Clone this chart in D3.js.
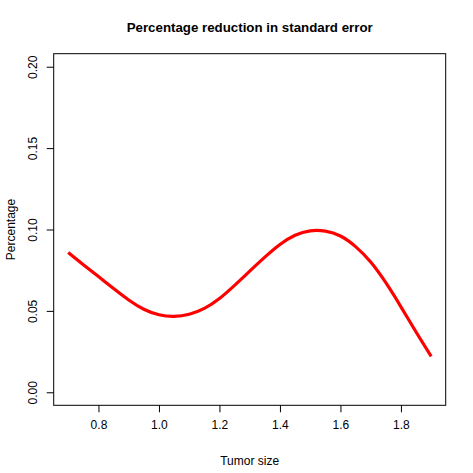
<!DOCTYPE html>
<html>
<head>
<meta charset="utf-8">
<script src="https://cdn.jsdelivr.net/npm/d3@7"></script>
<style>
  html, body { margin: 0; padding: 0; background: #fff; }
  svg { display: block; }
  text { font-family: "Liberation Sans", Arial, Helvetica, sans-serif; fill: #000; }
</style>
</head>
<body>
<svg id="chart" width="473" height="473"></svg>
<script>
// ---- data ----
const tumorSize = [0.70, 0.75, 0.80, 0.85, 0.90, 0.95, 1.00, 1.05, 1.10, 1.15, 1.20, 1.25,
                   1.30, 1.35, 1.40, 1.45, 1.50, 1.55, 1.60, 1.65, 1.70, 1.75, 1.80, 1.85, 1.90];
const percentage = [0.0859, 0.0784, 0.0711, 0.0637, 0.0567, 0.0510, 0.0476, 0.0466, 0.0479, 0.0515, 0.0576, 0.0657,
                    0.0744, 0.0830, 0.0908, 0.0965, 0.0992, 0.0990, 0.0960, 0.0895, 0.0800, 0.0673, 0.0525, 0.0370, 0.0221];
const xTicks = [0.8, 1.0, 1.2, 1.4, 1.6, 1.8];
const yTicks = [0.00, 0.05, 0.10, 0.15, 0.20];
const titleText = "Percentage reduction in standard error";
const xLabel = "Tumor size";
const yLabel = "Percentage";

// ---- layout ----
const svg = d3.select("#chart");
const pLeft = 53.7, pRight = 445.7, pTop = 53.7, pBottom = 405.3;
const xMin = 0.7, xMax = 1.9, yMin = 0, yMax = 0.2;
const xPad = (xMax - xMin) * 0.04, yPad = (yMax - yMin) * 0.04;
const x = d3.scaleLinear().domain([xMin - xPad, xMax + xPad]).range([pLeft, pRight]);
const y = d3.scaleLinear().domain([yMin - yPad, yMax + yPad]).range([pBottom, pTop]);

// box
svg.append("rect")
  .attr("x", pLeft).attr("y", pTop)
  .attr("width", pRight - pLeft).attr("height", pBottom - pTop)
  .attr("fill", "none").attr("stroke", "#000").attr("stroke-width", 1);

// x axis
const xAxis = d3.axisBottom(x).tickValues(xTicks).tickSize(7).tickPadding(8)
  .tickFormat(d3.format(".1f"));
const gx = svg.append("g").attr("transform", `translate(0,${pBottom})`).call(xAxis);
gx.select(".domain").remove();
gx.selectAll("line").attr("stroke", "#000");
gx.selectAll("text").attr("font-size", 12).attr("font-family", "Liberation Sans, Arial, sans-serif");

// y axis
const yAxis = d3.axisLeft(y).tickValues(yTicks).tickSize(7).tickPadding(0)
  .tickFormat(d3.format(".2f"));
const gy = svg.append("g").attr("transform", `translate(${pLeft},0)`).call(yAxis);
gy.select(".domain").remove();
gy.selectAll("line").attr("stroke", "#000");
gy.selectAll(".tick text")
  .attr("font-size", 12).attr("font-family", "Liberation Sans, Arial, sans-serif")
  .attr("text-anchor", "middle")
  .attr("x", 0).attr("y", 0).attr("dy", 0)
  .attr("transform", "translate(-16.5,0) rotate(-90)");

// line
const line = d3.line()
  .x((d, i) => x(tumorSize[i]))
  .y(d => y(d))
  .curve(d3.curveNatural);
svg.append("path")
  .datum(percentage)
  .attr("d", line)
  .attr("fill", "none")
  .attr("stroke", "#ff0000")
  .attr("stroke-width", 3.2)
  .attr("stroke-linejoin", "round");

// title
svg.append("text")
  .attr("x", (pLeft + pRight) / 2).attr("y", 31.5)
  .attr("text-anchor", "middle")
  .attr("font-size", 13.3).attr("font-weight", "bold")
  .text(titleText);

// axis titles
svg.append("text")
  .attr("x", (pLeft + pRight) / 2).attr("y", 465)
  .attr("text-anchor", "middle")
  .attr("font-size", 12)
  .text(xLabel);

svg.append("text")
  .attr("transform", `translate(14.5,${(pTop + pBottom) / 2}) rotate(-90)`)
  .attr("text-anchor", "middle")
  .attr("font-size", 12)
  .text(yLabel);
</script>
</body>
</html>
